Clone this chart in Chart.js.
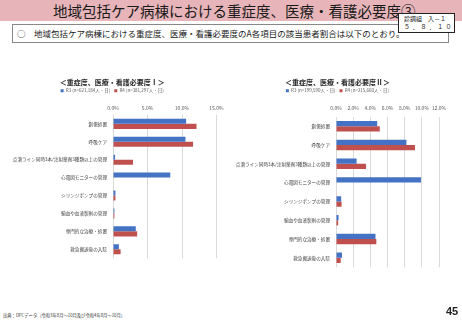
<!DOCTYPE html>
<html>
<head>
<meta charset="utf-8">
<script src="https://cdn.jsdelivr.net/npm/chart.js@4"></script>
<style>
  body { margin: 0; width: 462px; height: 320px; background: #fff; position: relative; overflow: hidden;
         font-family: "Noto Sans CJK JP", "Noto Sans", sans-serif; }
  #band { position: absolute; left: 0; top: 0; width: 462px; height: 21px; background: #e7b5b9; }
  #title { position: absolute; left: 0; top: 0; width: 462px; height: 21px; line-height: 22px; font-size: 14.5px;
           color: #1a1a1a; white-space: nowrap; }
  #title span { position: absolute; left: 53px; }
  #code { position: absolute; left: 398px; top: 13px; width: 57px; height: 20px; border: 1px solid #222; background: #fff;
          font-size: 6px; line-height: 8px; color: #222; box-sizing: border-box; padding: 1px 0 0 5px; white-space: nowrap; z-index: 2; }
  #code .l2 { letter-spacing: 2.3px; }
  #lead { position: absolute; left: 12px; top: 24px; width: 437px; height: 19px; border: 1px solid #888; box-sizing: border-box;
          font-size: 8.5px; line-height: 17px; color: #1a1a1a; white-space: nowrap; }
  #lead .mk { position: absolute; left: 4px; }
  #lead .tx { position: absolute; left: 21px; }
  canvas { position: absolute; }
  #c1 { left: 8px; top: 72px; }
  #c2 { left: 236px; top: 72px; }
  #src { position: absolute; left: 3px; top: 312px; font-size: 4.3px; color: #333; white-space: nowrap; }
  #page { position: absolute; left: 446px; top: 305px; font-size: 11px; font-weight: bold; color: #222; font-family: "Liberation Sans", sans-serif; }
</style>
</head>
<body>
<div id="band"></div>
<div id="title"><span>地域包括ケア病棟における重症度、医療・看護必要度③</span></div>
<div id="code">診調組　入－１<br><span class="l2">５．８．１０</span></div>
<div id="lead"><span class="mk">○</span><span class="tx">地域包括ケア病棟における重症度、医療・看護必要度のA各項目の該当患者割合は以下のとおり。</span></div>
<canvas id="c1" width="232" height="195"></canvas>
<canvas id="c2" width="224" height="204"></canvas>
<div id="src">出典：DPCデータ（令和3年8月～10月及び令和4年8月～10月）</div>
<div id="page">45</div>
<script>
var categorias = ['創傷処置', '呼吸ケア', '点滴ライン同時3本/注射薬剤3種類以上の管理', '心電図モニターの管理',
  'シリンジポンプの管理', '輸血や血液製剤の管理', '専門的な治療・処置', '救急搬送後の入院'];

// 重症度、医療・看護必要度Ⅰ (%)
var r3I = [10.6, 10.5, 0.3, 8.3, 0.35, 0.2, 3.3, 0.85];
var r4I = [12.1, 11.6, 2.9, 0, 0.35, 0.2, 3.5, 1.1];
// 重症度、医療・看護必要度Ⅱ (%)
var r3II = [4.8, 8.2, 2.4, 9.9, 0.6, 0.3, 4.6, 0.7];
var r4II = [5.1, 9.2, 3.5, 0, 0.65, 0.25, 4.7, 0.55];

var ticksI = [0, 5, 10, 15];
var ticksII = [0, 2, 4, 6, 8, 10, 12];

var fonte = '"Noto Sans CJK JP", "Noto Sans", sans-serif';
var azul = '#4472c4';
var vermelho = '#c0504d';

function gerarGrafico(id, titulo, rotulos, d3, d4, ticks, cfg) {
  var ctx = document.getElementById(id).getContext('2d');
  return new Chart(ctx, {
    type: 'bar',
    data: {
      labels: categorias,
      datasets: [
        { label: rotulos[0], data: d3, backgroundColor: azul, borderWidth: 0 },
        { label: rotulos[1], data: d4, backgroundColor: vermelho, borderWidth: 0 }
      ]
    },
    options: {
      indexAxis: 'y',
      responsive: false,
      animation: false,
      devicePixelRatio: 1,
      categoryPercentage: 0.56,
      barPercentage: 1,
      layout: { padding: { left: 0, right: cfg.right, top: 0, bottom: 4 } },
      plugins: {
        title: {
          display: true, text: titulo, color: '#262626',
          font: { family: fonte, size: 7, weight: 'bold' },
          padding: { top: 5.8, bottom: -1.8 }
        },
        legend: {
          display: true, position: 'top',
          labels: { boxWidth: 3, boxHeight: 3, padding: 4, color: '#595959', font: { family: fonte, size: 4.5 } }
        },
        tooltip: { enabled: false }
      },
      scales: {
        x: {
          position: 'top', min: 0, max: ticks[ticks.length - 1],
          afterBuildTicks: function (s) { s.ticks = ticks.map(function (v) { return { value: v }; }); },
          ticks: {
            padding: cfg.tp, color: '#595959', font: { family: fonte, size: 5 },
            maxRotation: 0, minRotation: 0, autoSkip: false,
            callback: function (v) { return v.toFixed(1) + '%'; }
          },
          grid: { color: '#d9d9d9', drawTicks: false },
          border: { display: false },
          afterFit: function (s) { s.height = cfg.xh; }
        },
        y: {
          grid: { display: false, drawTicks: false },
          border: { display: false },
          ticks: { padding: 6, color: '#404040', font: { family: fonte, size: 4.6 }, autoSkip: false },
          afterFit: function (s) { s.width = cfg.yw; }
        }
      }
    }
  });
}

gerarGrafico('c1', '＜重症度、医療・看護必要度Ⅰ＞', ['R3 (n=621,184人・日)', 'R4 (n=381,297人・日)'],
  r3I, r4I, ticksI, { right: 23.5, xh: 12, tp: 3.9, yw: 105 });
gerarGrafico('c2', '＜重症度、医療・看護必要度Ⅱ＞', ['R3 (n=199,590人・日)', 'R4 (n=215,660人・日)'],
  r3II, r4II, ticksII, { right: 21, xh: 13.9, tp: 5.8, yw: 100 });
</script>
</body>
</html>
